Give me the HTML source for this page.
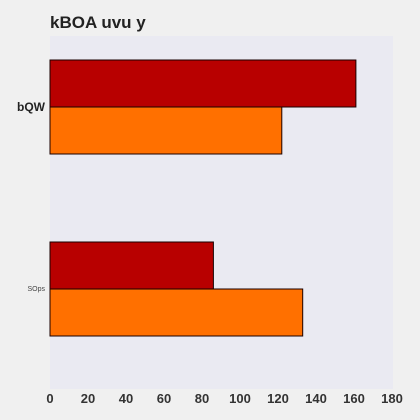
<!DOCTYPE html>
<html><head><meta charset="utf-8"><style>
body{margin:0;background:#f0f0f0;}
svg{display:block;font-family:"Liberation Sans",sans-serif;}
</style></head><body>
<svg width="420" height="420">
<rect width="420" height="420" fill="#f0f0f0"/>
<text x="50" y="28" font-size="17" font-weight="bold" fill="#222">kBOA uvu y</text>
<rect x="50" y="36" width="343" height="353" fill="#eaeaf2"/>
<g id="bars"></g><g id="xt"></g><g id="yt"></g>
</svg>
<script>
const categories=["bQW","SOps"];
const seriesA=[161,86];
const seriesB=[122,133];
const ticks=[0,20,40,60,80,100,120,140,160,180];
const ns="http://www.w3.org/2000/svg";
const x=v=>50+v*(342/180);
const catY=[107,289];
const bh=47;
function mk(t,a,p){const e=document.createElementNS(ns,t);for(const k in a)e.setAttribute(k,a[k]);p.appendChild(e);return e;}
const bars=document.getElementById('bars');
categories.forEach((c,i)=>{
 const r1=mk('rect',{x:50,y:catY[i]-bh,width:x(seriesA[i])-50,height:bh,fill:'#b80000',stroke:'#1a0000','stroke-width':1},bars);
 
 
 const r2=mk('rect',{x:50,y:catY[i],width:x(seriesB[i])-50,height:bh,fill:'#ff7000',stroke:'#1a0000','stroke-width':1},bars);
 
 
 const t=mk('text',{x:45,y:catY[i]+(i==0?4:2),'text-anchor':'end','font-size':i==0?12:7,'font-weight':i==0?'bold':'normal',fill:i==0?'#222':'#444'},document.getElementById('yt'));
 t.textContent=c;
 
 
});
ticks.forEach(v=>{
 const t=mk('text',{x:x(v),y:403,'text-anchor':'middle','font-size':13,'font-weight':'bold',fill:'#333'},document.getElementById('xt'));
 t.textContent=v;
 
 
});
</script>
</body></html>
